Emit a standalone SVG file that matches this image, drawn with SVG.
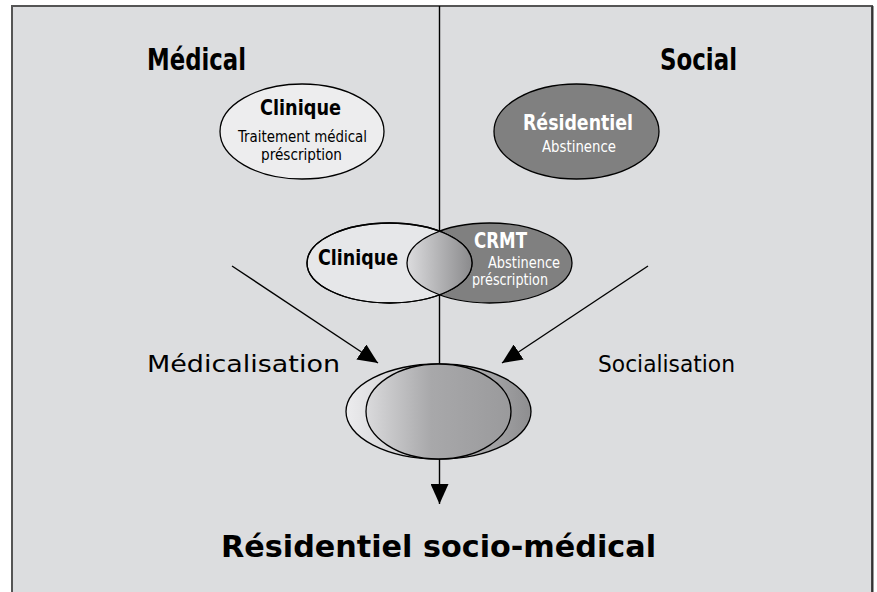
<svg xmlns="http://www.w3.org/2000/svg" width="877" height="592" viewBox="0 0 877 592">
<style>
text{font-family:"Liberation Sans Narrow","DejaVu Sans Condensed","Liberation Sans",sans-serif;}
.h{font-size:30px;font-weight:bold;fill:#000;}
.b{font-size:21px;font-weight:bold;}
.s{font-size:16.5px;}
.m{font-size:23px;fill:#000;}
.w{fill:#fff;}
.k{fill:#000;}
.el{stroke:#000;stroke-width:1.3;}
.ln{stroke:#000;stroke-width:1.4;fill:none;}
</style>
<defs>
<linearGradient id="lens" x1="407" y1="0" x2="472" y2="0" gradientUnits="userSpaceOnUse">
<stop offset="0" stop-color="#dcdcde"/>
<stop offset="1" stop-color="#8a8a8c"/>
</linearGradient>
<linearGradient id="outer" x1="0" y1="0" x2="1" y2="0">
<stop offset="0" stop-color="#ececee"/>
<stop offset="0.5" stop-color="#c0c0c2"/>
<stop offset="1" stop-color="#8e8e90"/>
</linearGradient>
<linearGradient id="inner" x1="0" y1="0" x2="1" y2="0">
<stop offset="0" stop-color="#dadadc"/>
<stop offset="0.45" stop-color="#a8a8aa"/>
<stop offset="1" stop-color="#9a9a9c"/>
</linearGradient>
<clipPath id="clipClin"><ellipse cx="389.5" cy="263" rx="82.5" ry="40"/></clipPath>
<marker id="ah" viewBox="0 0 20 18" refX="20" refY="9" markerWidth="20" markerHeight="18" markerUnits="userSpaceOnUse" orient="auto">
<path d="M0,0 L20,9 L0,18 z" fill="#000"/>
</marker>
</defs>
<rect x="0" y="0" width="877" height="592" fill="#fff"/>
<rect x="12" y="6" width="860" height="600" fill="#dcdddf" stroke="#555" stroke-width="2"/>
<line x1="872.5" y1="6" x2="872.5" y2="592" stroke="#333" stroke-width="2"/>

<g id="connectors">
<line class="ln" x1="439.5" y1="6" x2="439.5" y2="504" marker-end="url(#ah)"/>
<line class="ln" x1="232" y1="266" x2="378" y2="363" marker-end="url(#ah)"/>
<line class="ln" x1="648" y1="266" x2="502" y2="363" marker-end="url(#ah)"/>
</g>

<g id="title-medical"><text class="h" x="147" y="70" textLength="99" lengthAdjust="spacingAndGlyphs">Médical</text></g>
<g id="title-social"><text class="h" x="660" y="70" textLength="77" lengthAdjust="spacingAndGlyphs">Social</text></g>

<g id="clinique-top">
<ellipse class="el" cx="302" cy="131.5" rx="82" ry="47.5" fill="#ededee"/>
<text class="b k" x="260" y="115" textLength="81" lengthAdjust="spacingAndGlyphs">Clinique</text>
<text class="s k" x="238" y="142" textLength="129" lengthAdjust="spacingAndGlyphs">Traitement médical</text>
<text class="s k" x="261" y="160" textLength="81" lengthAdjust="spacingAndGlyphs">préscription</text>
</g>

<g id="residentiel-top">
<ellipse class="el" cx="576.5" cy="131.5" rx="82.5" ry="47.5" fill="#808080"/>
<text class="b w" x="523" y="130" textLength="110" lengthAdjust="spacingAndGlyphs">Résidentiel</text>
<text class="s w" x="542" y="152" textLength="74" lengthAdjust="spacingAndGlyphs">Abstinence</text>
</g>

<g id="crmt">
<ellipse class="el" cx="489.5" cy="263" rx="82.5" ry="40" fill="#808080"/>
<text class="b w" x="474" y="248" textLength="53" lengthAdjust="spacingAndGlyphs">CRMT</text>
<text class="s w" x="488" y="268" textLength="72" lengthAdjust="spacingAndGlyphs">Abstinence</text>
<text class="s w" x="472" y="285" textLength="76" lengthAdjust="spacingAndGlyphs">préscription</text>
</g>

<g id="clinique-mid">
<ellipse class="el" cx="389.5" cy="263" rx="82.5" ry="40" fill="#e6e7e9"/>
<ellipse cx="489.5" cy="263" rx="82.5" ry="40" fill="url(#lens)" clip-path="url(#clipClin)"/>
<ellipse cx="489.5" cy="263" rx="82.5" ry="40" fill="none" stroke="#000" stroke-width="1.3" clip-path="url(#clipClin)"/>
<ellipse class="el" cx="389.5" cy="263" rx="82.5" ry="40" fill="none"/>
<text class="b k" x="318" y="265" textLength="80" lengthAdjust="spacingAndGlyphs">Clinique</text>
</g>

<g id="medicalisation"><text class="m" x="147" y="372" textLength="193" lengthAdjust="spacingAndGlyphs">Médicalisation</text></g>
<g id="socialisation"><text class="m" x="598" y="372" textLength="137" lengthAdjust="spacingAndGlyphs">Socialisation</text></g>

<g id="socio-medical-node">
<ellipse class="el" cx="438.5" cy="411.5" rx="92.5" ry="47.5" fill="url(#outer)"/>
<ellipse class="el" cx="438.5" cy="411.5" rx="72.5" ry="47.5" fill="url(#inner)"/>
</g>

<g id="title-bottom"><text class="h" x="221" y="557" textLength="435" lengthAdjust="spacingAndGlyphs">Résidentiel socio-médical</text></g>
</svg>
